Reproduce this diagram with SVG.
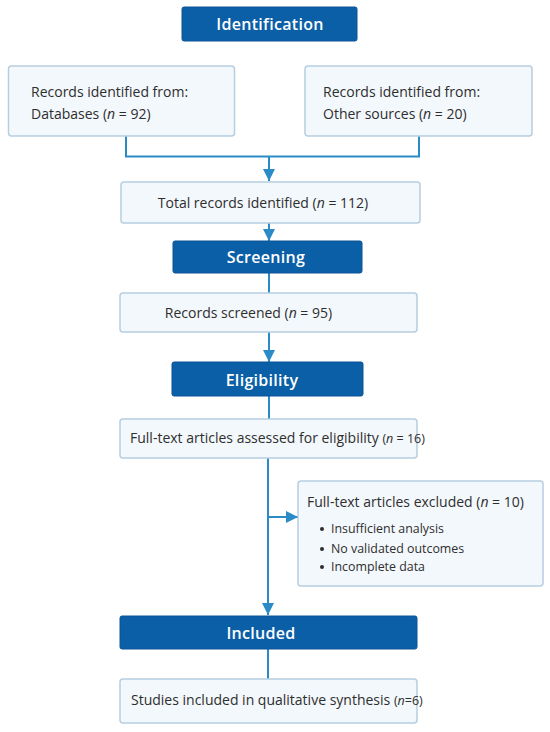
<svg xmlns="http://www.w3.org/2000/svg" width="550" height="732" viewBox="0 0 550 732">
<defs>
<style>
.hdr{fill:#0b5fa7;stroke:#0a5598;stroke-width:1}
.box{fill:#f3f8fc;stroke:#b7cde0;stroke-width:1.5}
.ht{font-family:"Open Sans","Noto Sans",sans-serif;font-size:16px;font-weight:600;fill:#ffffff;text-anchor:middle;letter-spacing:0.3px}
.t{font-family:"Open Sans","Noto Sans",sans-serif;font-size:14px;fill:#2e2e2e}
.s{font-family:"Open Sans","Noto Sans",sans-serif;font-size:12.5px;fill:#2e2e2e}
.b{font-family:"Open Sans","Noto Sans",sans-serif;font-size:12.4px;fill:#2e2e2e}
.c{fill:none;stroke:#2a8bc6;stroke-width:2}
</style>
<marker id="ar" viewBox="0 0 12 12" refX="12" refY="6" markerWidth="12" markerHeight="12" markerUnits="userSpaceOnUse" orient="auto">
<path d="M0,0 L12,6 L0,12 Z" fill="#2a8bc6"/>
</marker>
</defs>
<rect width="550" height="732" fill="#ffffff"/>
<g id="connectors">
<path class="c" d="M126,136 V156.5 H419 V136"/>
<path class="c" d="M269,156.5 V181" marker-end="url(#ar)"/>
<path class="c" d="M269,223 V241" marker-end="url(#ar)"/>
<path class="c" d="M269,273 V293"/>
<path class="c" d="M269,332 V362" marker-end="url(#ar)"/>
<path class="c" d="M269,396 V419"/>
<path class="c" d="M268,458 V615" marker-end="url(#ar)"/>
<path class="c" d="M268,517 H298" marker-end="url(#ar)"/>
<path class="c" d="M268,649 V679"/>
</g>
<g id="identification">
<rect class="hdr" x="182" y="7" width="175" height="34" rx="2"/>
<text class="ht" x="270" y="30">Identification</text>
</g>
<g id="databases">
<rect class="box" x="8.5" y="66" width="226" height="70" rx="3"/>
<text class="t" x="31" y="97">Records identified from:</text>
<text class="t" x="31" y="119">Databases (<tspan font-style="italic">n</tspan> = 92)</text>
</g>
<g id="other-sources">
<rect class="box" x="305" y="66" width="227" height="70" rx="3"/>
<text class="t" x="323" y="97">Records identified from:</text>
<text class="t" x="323" y="119">Other sources (<tspan font-style="italic">n</tspan> = 20)</text>
</g>
<g id="total">
<rect class="box" x="121" y="182" width="299" height="41" rx="3"/>
<text class="t" x="263" y="208" text-anchor="middle" font-size="14.4">Total records identified (<tspan font-style="italic">n</tspan> = 112)</text>
</g>
<g id="screened-box">
<rect class="box" x="120" y="293" width="297" height="39" rx="3"/>
<text class="t" x="248.5" y="318" text-anchor="middle" font-size="14.4">Records screened (<tspan font-style="italic">n</tspan> = 95)</text>
</g>
<g id="screening">
<rect class="hdr" x="173" y="241" width="189" height="32" rx="2"/>
<text class="ht" x="266" y="263">Screening</text>
</g>
<g id="eligibility">
<rect class="hdr" x="172" y="362" width="191" height="34" rx="2"/>
<text class="ht" x="262" y="386">Eligibility</text>
</g>
<g id="assessed">
<rect class="box" x="120" y="419" width="297" height="39" rx="3"/>
<text class="t" x="130" y="443" font-size="13">Full-text articles assessed for eligibility <tspan class="s">(<tspan font-style="italic">n</tspan> = 16)</tspan></text>
</g>
<g id="excluded">
<rect class="box" x="298" y="481" width="245" height="105" rx="3"/>
<text class="t" x="307" y="507" font-size="14.3">Full-text articles excluded (<tspan font-style="italic">n</tspan> = 10)</text>
<circle cx="322" cy="529" r="2" fill="#2e2e2e"/>
<circle cx="322" cy="549" r="2" fill="#2e2e2e"/>
<circle cx="322" cy="567" r="2" fill="#2e2e2e"/>
<text class="b" x="331" y="533">Insufficient analysis</text>
<text class="b" x="331" y="553">No validated outcomes</text>
<text class="b" x="331" y="571">Incomplete data</text>
</g>
<g id="included">
<rect class="hdr" x="120" y="616" width="297" height="33" rx="2"/>
<text class="ht" x="261" y="639">Included</text>
</g>
<g id="studies">
<rect class="box" x="120" y="679" width="297" height="44" rx="3"/>
<text class="t" x="131" y="705" font-size="13">Studies included in qualitative synthesis <tspan class="s">(<tspan font-style="italic">n</tspan>=6)</tspan></text>
</g>
</svg>
